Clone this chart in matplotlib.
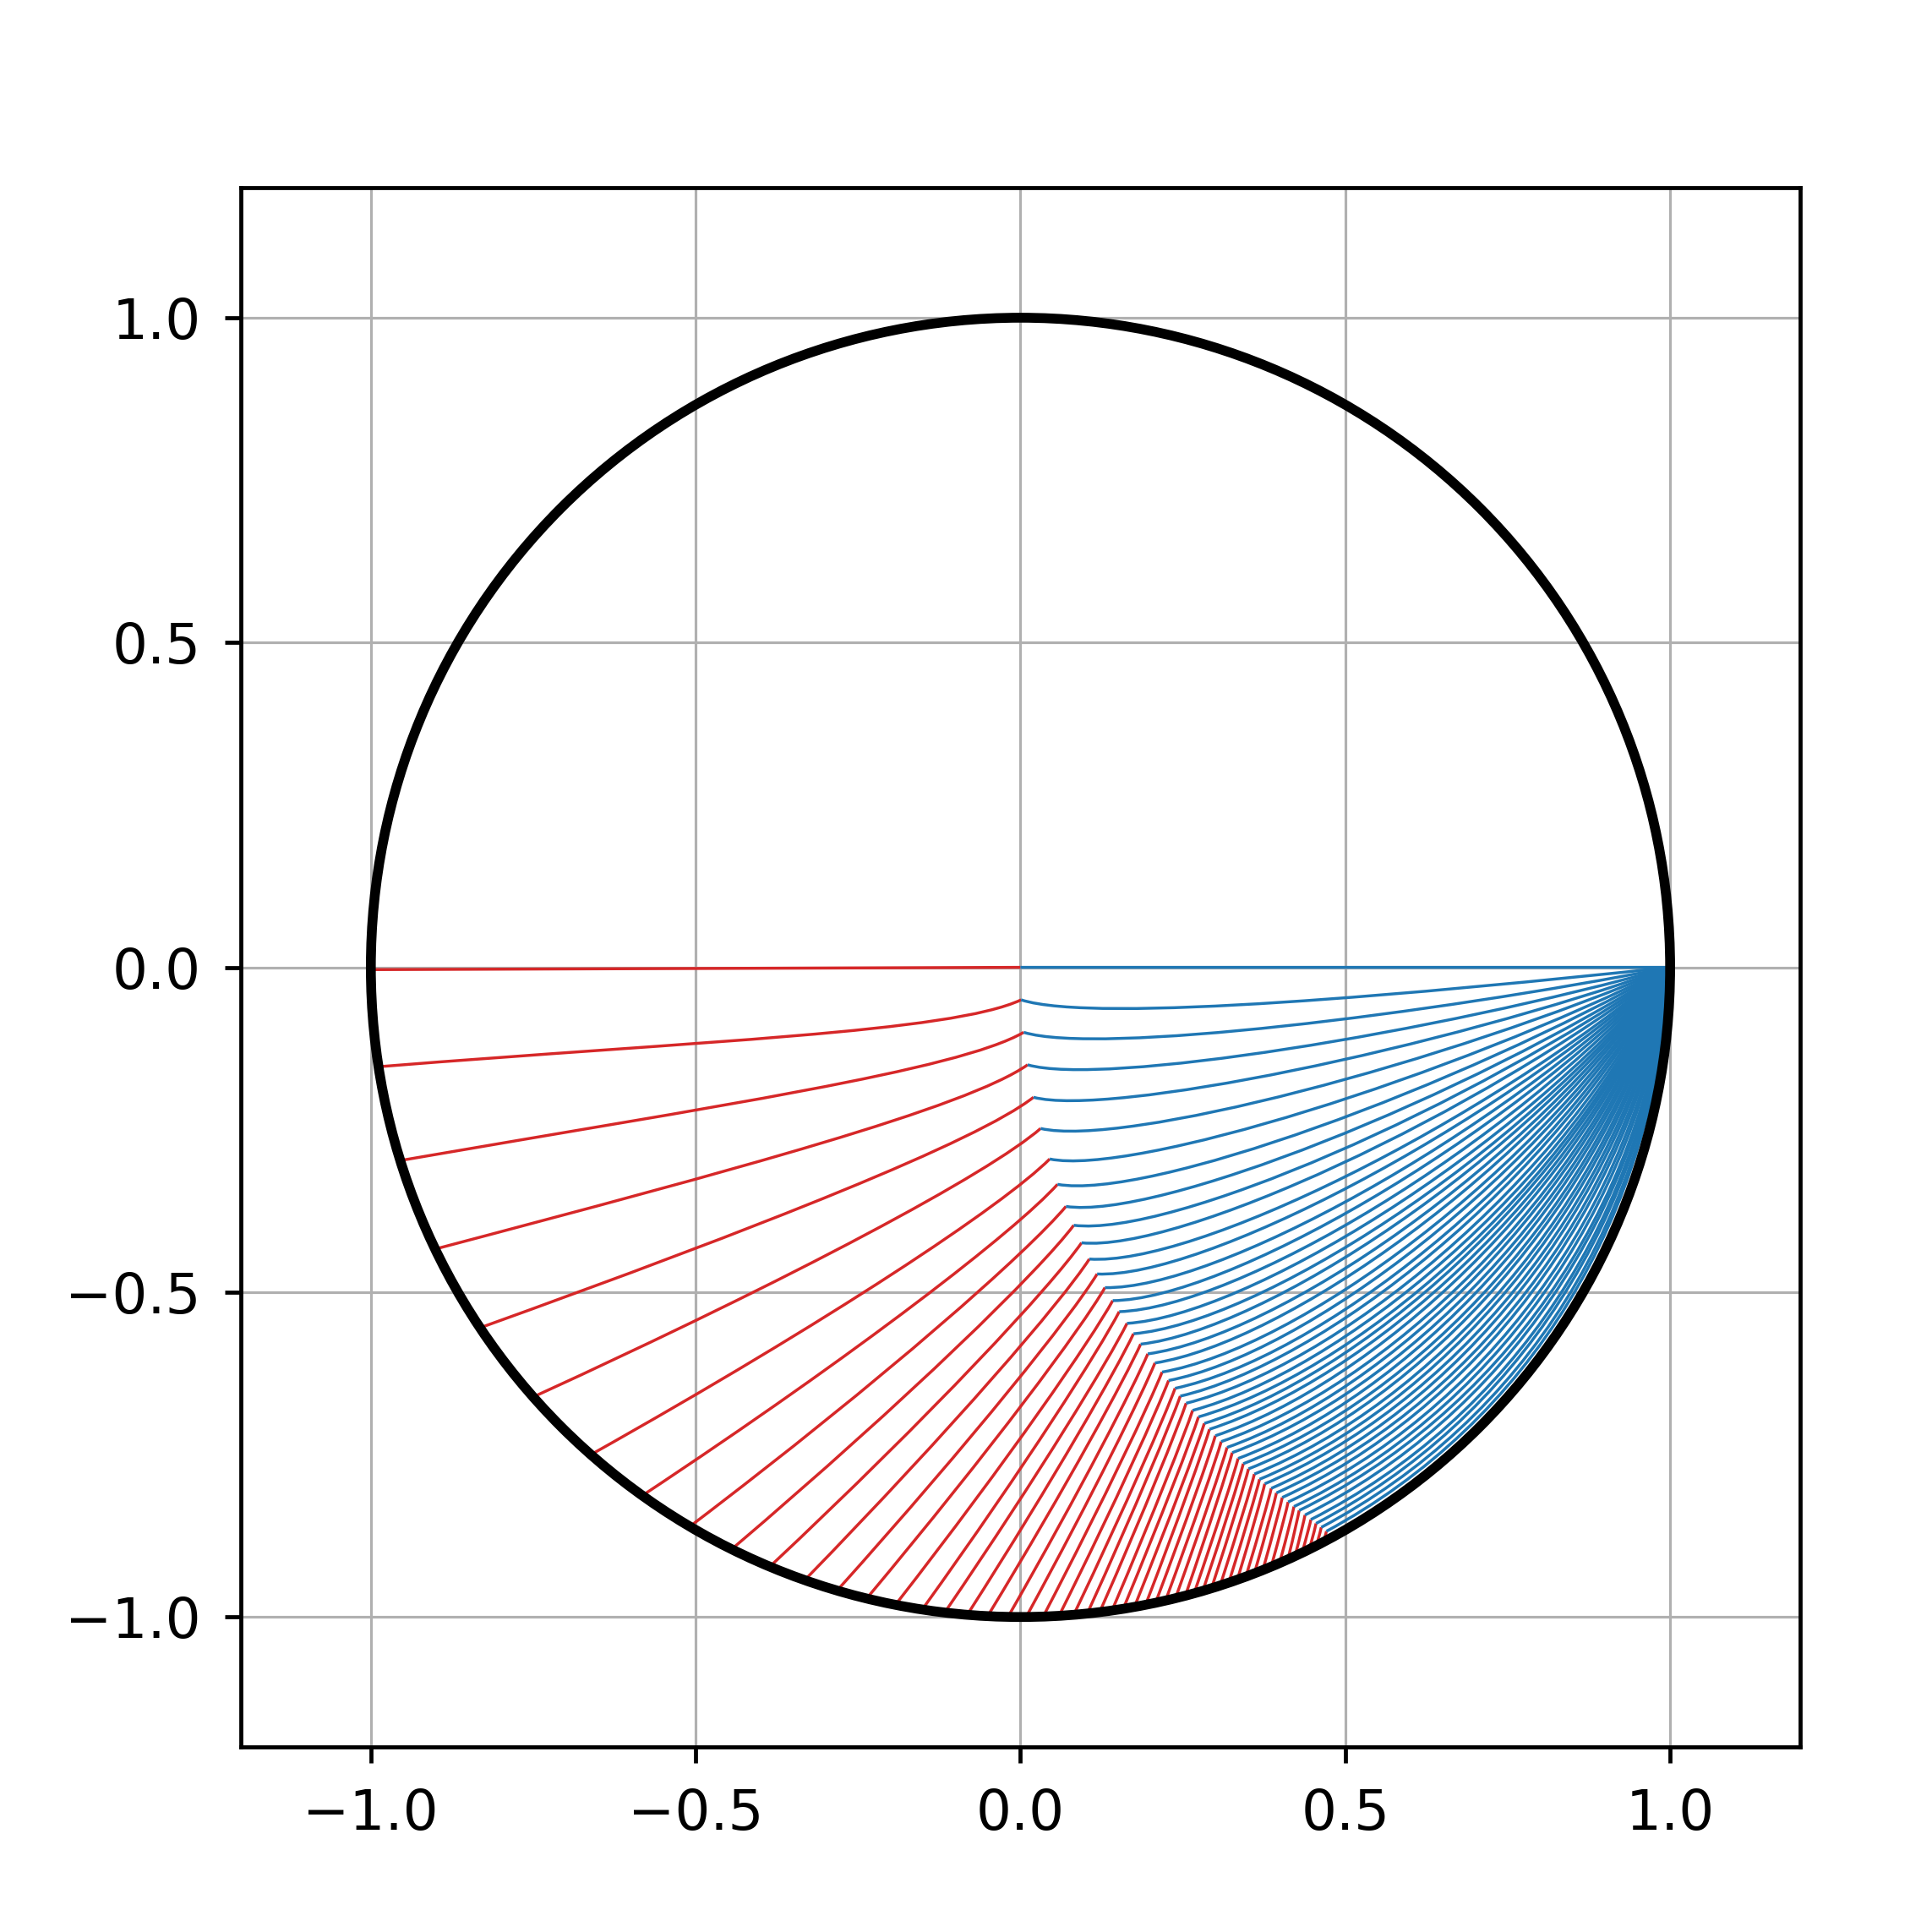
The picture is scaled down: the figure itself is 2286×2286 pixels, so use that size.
import numpy as np
import matplotlib
matplotlib.use("Agg")
import matplotlib.pyplot as plt
from matplotlib.path import Path
from matplotlib.patches import PathPatch, Circle

RED = '#d62728'
BLUE = '#1f77b4'

# where each red path leaves the unit circle (angle in degrees)
start_deg = [180.2, 188.8, 197.3, 205.7, 213.7, 221.4, 228.6, 234.4, 239.4, 243.6,
             247.3, 250.6, 253.6, 256.3, 258.9, 261.3, 263.3, 265.3, 267.1, 268.9,
             270.5, 272.0, 273.4, 274.7, 275.9, 277.0, 278.1, 279.1, 280.1, 281.1,
             282.0, 282.9, 283.8, 284.7, 285.5, 286.3, 287.1, 287.9, 288.7, 289.5,
             290.3, 291.1, 291.9, 292.7, 293.5, 294.3, 295.0, 295.7, 296.4, 297.1,
             297.8]

# junction where the red part turns into the blue part
cusp_x = [0.000, 0.001, 0.005, 0.011, 0.020, 0.031, 0.045, 0.057, 0.070, 0.082,
          0.094, 0.106, 0.118, 0.130, 0.142, 0.152, 0.164, 0.174, 0.185, 0.196,
          0.207, 0.218, 0.228, 0.238, 0.246, 0.255, 0.265, 0.274, 0.283, 0.291,
          0.300, 0.309, 0.318, 0.326, 0.335, 0.343, 0.351, 0.360, 0.368, 0.376,
          0.386, 0.394, 0.403, 0.412, 0.421, 0.429, 0.438, 0.447, 0.455, 0.463,
          0.471]
cusp_y = [0.000, -0.050, -0.100, -0.150, -0.200, -0.248, -0.295, -0.334, -0.368, -0.397,
          -0.424, -0.449, -0.472, -0.493, -0.513, -0.530, -0.548, -0.564, -0.580, -0.595,
          -0.609, -0.623, -0.636, -0.648, -0.660, -0.671, -0.682, -0.692, -0.702, -0.711,
          -0.721, -0.730, -0.739, -0.747, -0.756, -0.764, -0.772, -0.780, -0.788, -0.795,
          -0.802, -0.809, -0.816, -0.823, -0.830, -0.836, -0.843, -0.850, -0.856, -0.862,
          -0.868]

# red part: heading when leaving the circle / when reaching the junction (degrees)
red_out_deg = [0.2, 4.6, 9.8, 14.8, 19.8, 24.6, 29.3, 33.5, 37.2, 40.4,
               43.2, 45.8, 48.1, 50.1, 52.1, 54.3, 55.7, 57.4, 58.7, 60.2,
               61.4, 62.5, 63.5, 64.5, 65.5, 66.2, 66.9, 67.5, 68.2, 69.0,
               69.4, 69.8, 70.3, 71.0, 71.1, 71.5, 72.0, 72.3, 72.7, 73.2,
               73.2, 73.9, 74.2, 74.5, 74.8, 75.8, 75.4, 74.8, 74.7, 74.6,
               74.0]
red_in_deg = [0.2, 25, 30, 35, 38, 41, 45, 48, 50, 53,
              55, 57, 58.5, 60, 61, 62.5, 63.5, 64.5, 65.5, 66.5,
              67.5, 68.2, 69, 69.7, 70.3, 71, 71.5, 72, 72.5, 73,
              73.5, 74, 74.4, 74.8, 75.2, 75.6, 76, 76.3, 76.6, 77,
              77.3, 77.6, 77.9, 78.2, 78.5, 78.8, 79, 79.2, 79.4, 79.6,
              79.8]

# blue part: heading when leaving the junction / when reaching (1, 0)
blue_out_deg = [0, -18, -17, -16, -14.5, -13, -11.5, -10, -8.5, -7,
                -5.5, -4, -2.5, -1, 0.5, 2, 3.5, 5, 6.5, 8,
                9, 10, 11, 12, 13, 14, 15, 16, 17, 18,
                18.5, 19, 19.5, 20, 20.5, 21, 21.5, 22, 22.5, 23,
                23.5, 24, 24.5, 25, 25.5, 26, 26.5, 27, 27.5, 28,
                28.5]
blue_in_deg = [0, 6, 11, 15.5, 19.5, 23, 26.5, 29.5, 32.5, 35,
               37.5, 40, 42, 44, 46, 48, 50, 51.5, 53, 54.5,
               56, 57.5, 59, 60.5, 62, 63.5, 65, 66, 67, 68,
               69, 70, 71, 72, 73, 74, 75, 76, 77, 78,
               79, 80, 81, 82, 83, 84, 84.5, 85, 85.5, 86,
               86.5]
# how far the blue part keeps its junction heading (fraction of chord)
blue_lead = [0.12, 0.12, 0.12, 0.12, 0.12, 0.13, 0.13, 0.14, 0.14, 0.15,
             0.15, 0.16, 0.16, 0.17, 0.17, 0.18, 0.18, 0.19, 0.19, 0.20,
             0.20, 0.21, 0.21, 0.22, 0.22, 0.23, 0.23, 0.24, 0.24, 0.25,
             0.25, 0.26, 0.26, 0.27, 0.27, 0.28, 0.28, 0.29, 0.29, 0.30,
             0.30, 0.31, 0.31, 0.32, 0.32, 0.33, 0.33, 0.34, 0.34, 0.35,
             0.35]

end_point = (1.0, 0.0)


def bezier_path(p0, a0, p3, a3, h0, h3):
    # cubic curve from p0 to p3 with given end headings
    p0 = np.asarray(p0, float)
    p3 = np.asarray(p3, float)
    length = np.hypot(*(p3 - p0))
    d0 = np.array([np.cos(np.radians(a0)), np.sin(np.radians(a0))])
    d3 = np.array([np.cos(np.radians(a3)), np.sin(np.radians(a3))])
    p1 = p0 + h0 * length * d0
    p2 = p3 - h3 * length * d3
    return Path([p0, p1, p2, p3], [Path.MOVETO, Path.CURVE4, Path.CURVE4, Path.CURVE4])


fig = plt.figure(figsize=(6, 6), dpi=381)
ax = fig.add_axes([0.1237, 0.0958, 0.809, 0.807])

for i in range(len(start_deg)):
    t = np.radians(start_deg[i])
    start = (np.cos(t), np.sin(t))
    cusp = (cusp_x[i], cusp_y[i])
    red = bezier_path(start, red_out_deg[i], cusp, red_in_deg[i], 0.5, 0.12)
    ax.add_patch(PathPatch(red, fill=False, edgecolor=RED, lw=0.65, zorder=2))
    blue = bezier_path(cusp, blue_out_deg[i], end_point, blue_in_deg[i], blue_lead[i], 0.38)
    ax.add_patch(PathPatch(blue, fill=False, edgecolor=BLUE, lw=0.65, zorder=2))

ax.add_patch(Circle((0, 0), 1.0, fill=False, edgecolor='black', lw=2.2, zorder=3))

ax.set_xlim(-1.2, 1.2)
ax.set_ylim(-1.2, 1.2)
ax.set_aspect('equal')
ax.set_xticks([-1.0, -0.5, 0.0, 0.5, 1.0])
ax.set_yticks([-1.0, -0.5, 0.0, 0.5, 1.0])
ax.tick_params(labelsize=12.5, length=3.5, pad=5.5, width=0.9)
ax.grid(True, color='#b0b0b0', lw=0.6)
ax.set_axisbelow(True)
for s in ax.spines.values():
    s.set_linewidth(0.9)

fig.savefig('out.png', dpi=381)
